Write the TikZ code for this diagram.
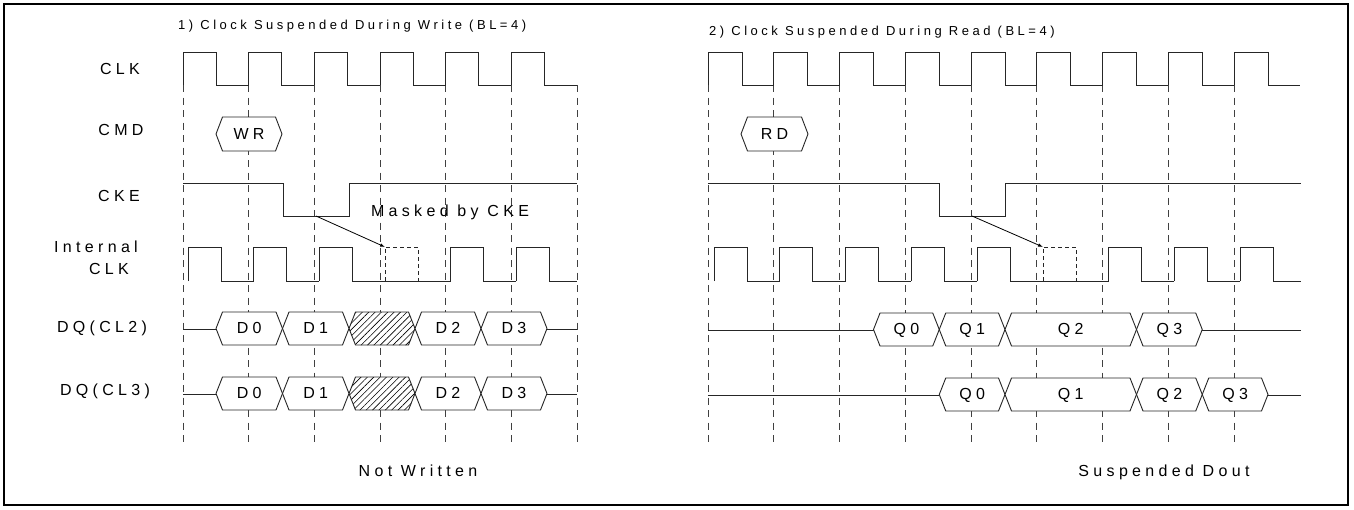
\documentclass[tikz,border=0pt]{standalone}
\usepackage{fontspec}
\setmainfont{Liberation Sans}
\newfontfamily\wavefont[LetterSpace=27]{Liberation Sans}
\usetikzlibrary{arrows.meta,patterns.meta}

\begin{document}
\begin{tikzpicture}[x=1pt,y=-1pt]
\tikzstyle{wave}=[draw=black!85,line width=0.9pt];
\tikzstyle{grid}=[draw=black!75,line width=0.8pt,dash pattern=on 7pt off 5.5pt];
\tikzstyle{ghost}=[draw=black!85,line width=0.8pt,dash pattern=on 4pt off 3pt];
\tikzstyle{cell}=[draw=black!85,line width=0.9pt,fill=white];
\tikzstyle{hatched}=[cell,preaction={fill=white},pattern={Lines[angle=45,distance=4.5pt,line width=0.6pt]}];
\tikzstyle{lbl}=[font=\wavefont\fontsize{16}{18}\selectfont,inner sep=0pt,text depth=0pt];
\tikzstyle{ttl}=[font=\wavefont\fontsize{13}{15}\selectfont,inner sep=0pt,text depth=0pt,anchor=west];
\tikzstyle{mask}=[draw=black,line width=0.8pt,-{Latex[length=5pt,width=3.5pt]}];

\useasboundingbox (0,0) rectangle (1354,509);
\draw[line width=1.6pt] (4,4) rectangle (1348,505);

\node[ttl] (titleW) at (178,25) {1) Clock Suspended During Write (BL=4)};
\node[ttl] (titleR) at (709,31) {2) Clock Suspended During Read (BL=4)};
\node[lbl] (sigclk) at (120,69) {CLK};
\node[lbl] (sigcmd) at (121,130) {CMD};
\node[lbl] (sigcke) at (119,196) {CKE};
\node[lbl] (sigint) at (96,247) {Internal};
\node[lbl] (sigiclk) at (109,269) {CLK};
\node[lbl] (sigdq2) at (102,327) {DQ(CL2)};
\node[lbl] (sigdq3) at (105,390) {DQ(CL3)};

\foreach \k in {0,...,6} \draw[grid] (183+65.67*\k,85) -- (183+65.67*\k,445);
\foreach \k in {0,...,8} \draw[grid] (708+65.75*\k,85) -- (708+65.75*\k,445);

\foreach \k in {0,...,5} \draw[wave] (183+65.67*\k,85) -- ++(0,-33) -- ++(33,0) -- ++(0,33) -- ++(32.67,0);
\foreach \k in {0,...,8} \draw[wave] (708+65.75*\k,85) -- ++(0,-33) -- ++(34,0) -- ++(0,33) -- ++(31.75,0);

\draw[wave] (183,183) -- (283.5,183) -- (283.5,216) -- (349,216) -- (349,183) -- (577,183);
\draw[wave] (708,183) -- (939,183) -- (939,216) -- (1005,216) -- (1005,183) -- (1301,183);

\foreach \k/\lo in {0/32.67,1/32.67,2/98.33,4/32.67,5/27.7}
  \draw[wave] (188+65.67*\k,281) -- ++(0,-34) -- ++(33,0) -- ++(0,34) -- ++(\lo,0);
\foreach \k/\lo in {0/32.75,1/32.75,2/32.75,3/32.75,4/98.5,6/32.75,7/32.75,8/28}
  \draw[wave] (714+65.75*\k,281) -- ++(0,-34) -- ++(33,0) -- ++(0,34) -- ++(\lo,0);
\draw[ghost] (385,281) -- (385,247) -- (418,247) -- (418,281);
\draw[ghost] (1043,281) -- (1043,247) -- (1076,247) -- (1076,281);

\coordinate (lowW) at (316,216);
\coordinate (gapW) at (385,247);
\coordinate (lowR) at (972,216);
\coordinate (gapR) at (1043,247);
\draw[mask] (lowW) -- (gapW);
\draw[mask] (lowR) -- (gapR);
\node[lbl] (masked) at (450,211) {Masked by CKE};

\foreach \xa/\xb/\txt/\nm in {216/282/WR/cmdw,741/808/RD/cmdr}{
  \draw[cell] (\xa,134) -- (\xa+6.5,117) -- (\xb-6.5,117) -- (\xb,134) -- (\xb-6.5,151) -- (\xa+6.5,151) -- cycle;
  \node[lbl] (\nm) at ({(\xa+\xb)/2},134) {\txt};
}

\draw[wave] (183,329) -- (216,329);
\draw[wave] (547,329) -- (577,329);
\draw[wave] (183,394) -- (216,394);
\draw[wave] (547,394) -- (577,394);
\draw[wave] (708,330) -- (873.5,330);
\draw[wave] (1202.25,330) -- (1301,330);
\draw[wave] (708,395) -- (939.25,395);
\draw[wave] (1268,395) -- (1301,395);

\foreach \yt in {312,377}
  \draw[hatched] (349,\yt+16.5) -- (355.5,\yt) -- (408.5,\yt) -- (415,\yt+16.5) -- (408.5,\yt+33) -- (355.5,\yt+33) -- cycle;

\foreach \xa/\xb/\yt/\txt/\nm in {216/282.5/312/D0/wa0,282.5/349/312/D1/wa1,415/481/312/D2/wa2,481/547/312/D3/wa3,
    216/282.5/377/D0/wb0,282.5/349/377/D1/wb1,415/481/377/D2/wb2,481/547/377/D3/wb3,
    873.5/939.25/313/Q0/ra0,939.25/1005/313/Q1/ra1,1005/1136.5/313/Q2/ra2,1136.5/1202.25/313/Q3/ra3,
    939.25/1005/378/Q0/rb0,1005/1136.5/378/Q1/rb1,1136.5/1202.25/378/Q2/rb2,1202.25/1268/378/Q3/rb3}{
  \draw[cell] (\xa,\yt+16.5) -- (\xa+6.5,\yt) -- (\xb-6.5,\yt) -- (\xb,\yt+16.5) -- (\xb-6.5,\yt+33) -- (\xa+6.5,\yt+33) -- cycle;
  \node[lbl] (\nm) at ({(\xa+\xb)/2},\yt+15.5) {\txt};
}

\node[lbl] (notwr) at (418,471) {Not Written};
\node[lbl] (susp) at (1164,471) {Suspended Dout};
\end{tikzpicture}
\end{document}
